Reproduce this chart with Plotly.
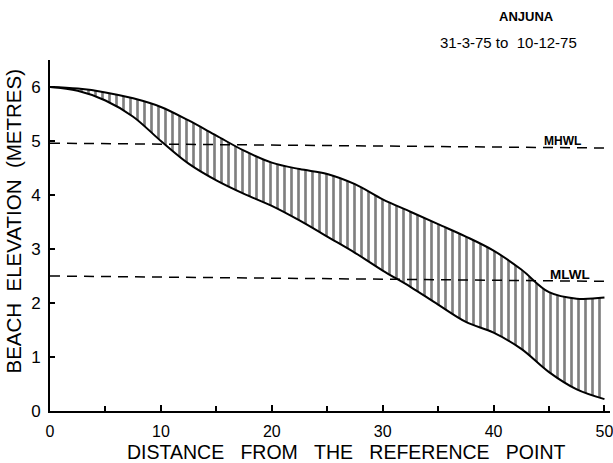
import plotly.graph_objects as go

# Distance from the reference point (m)
distance = [0, 2.5, 5, 7.5, 10, 12.5, 15, 17.5, 20, 22.5, 25, 27.5, 30,
            32.5, 35, 37.5, 40, 42.5, 45, 47.5, 50]
# Profile 31-3-75 (upper)
profile_mar = [6.0, 5.97, 5.9, 5.79, 5.63, 5.38, 5.1, 4.82, 4.6, 4.48, 4.39,
               4.2, 3.92, 3.69, 3.46, 3.23, 2.97, 2.62, 2.2, 2.08, 2.1]
# Profile 10-12-75 (lower)
profile_dec = [6.0, 5.93, 5.75, 5.45, 5.0, 4.58, 4.27, 4.02, 3.8, 3.53, 3.23,
               2.93, 2.6, 2.3, 1.97, 1.65, 1.45, 1.15, 0.72, 0.4, 0.22]

level_x = [0, 50.5]
mhwl = [4.96, 4.87]
mlwl = [2.50, 2.40]

x_ticks = [0, 10, 20, 30, 40, 50]
y_ticks = [0, 1, 2, 3, 4, 5, 6]

FONT = "Liberation Sans"
SP = "&nbsp;&nbsp;&nbsp;"

fig = go.Figure()

fig.add_trace(go.Scatter(x=distance, y=profile_mar, mode="lines",
                         line=dict(color="black", width=2, shape="spline"),
                         showlegend=False))
fig.add_trace(go.Scatter(x=distance, y=profile_dec, mode="lines",
                         line=dict(color="black", width=2, shape="spline"),
                         fill="tonexty",
                         fillpattern=dict(shape="|", size=7, solidity=0.38,
                                          fgcolor="black", bgcolor="white"),
                         showlegend=False))
fig.add_trace(go.Scatter(x=level_x, y=mhwl, mode="lines",
                         line=dict(color="black", width=1.5, dash="10px,7px"),
                         showlegend=False))
fig.add_trace(go.Scatter(x=level_x, y=mlwl, mode="lines",
                         line=dict(color="black", width=1.5, dash="10px,7px"),
                         showlegend=False))

fig.update_layout(
    width=613, height=463,
    margin=dict(l=50, r=3, t=60, b=52),
    paper_bgcolor="white", plot_bgcolor="white",
    font=dict(family=FONT, color="black"),
    xaxis=dict(range=[0, 50.5], showgrid=False, zeroline=False, automargin=False,
               showline=True, linecolor="black", linewidth=2,
               tickvals=x_ticks, ticks="inside", ticklen=6, tickwidth=1.5,
               tickcolor="black", ticklabelstandoff=5, ticklabeloverflow="allow",
               minor=dict(dtick=5, ticks="inside", ticklen=5, tickwidth=1.5,
                          tickcolor="black"),
               tickfont=dict(size=16, family=FONT, color="black")),
    yaxis=dict(range=[0, 6.5], showgrid=False, zeroline=False, automargin=False,
               showline=True, linecolor="black", linewidth=2,
               tickvals=y_ticks, ticks="inside", ticklen=5, tickwidth=1.5,
               tickcolor="black", ticklabelstandoff=4,
               tickfont=dict(size=17, family=FONT, color="black")),
    annotations=[
        dict(text="<b>ANJUNA</b>", xref="paper", yref="paper", x=0.85, y=1.125,
             xanchor="center", yanchor="middle",
             showarrow=False, font=dict(size=13, family=FONT)),
        dict(text="31-3-75 to  10-12-75", xref="paper", yref="paper",
             x=0.818, y=1.051, xanchor="center", yanchor="middle",
             showarrow=False, font=dict(size=15, family=FONT)),
        dict(text="BEACH  ELEVATION  (METRES)", xref="paper", yref="paper",
             x=-0.066, y=0.54, textangle=-90, xanchor="center", yanchor="middle",
             showarrow=False, font=dict(size=20.5, family=FONT)),
        dict(text=SP.join(["DISTANCE", "FROM", "THE", "REFERENCE", "POINT"]),
             xref="paper", yref="paper", x=0.53, y=-0.117,
             xanchor="center", yanchor="middle",
             showarrow=False, font=dict(size=19.5, family=FONT)),
        dict(text="<b>MHWL</b>", xref="x", yref="y", x=46.2, y=4.88,
             yanchor="bottom", yshift=-3, showarrow=False,
             font=dict(size=12, family=FONT)),
        dict(text="<b>MLWL</b>", xref="x", yref="y", x=46.9, y=2.41,
             yanchor="bottom", yshift=-3, showarrow=False,
             font=dict(size=13.5, family=FONT)),
    ],
)

# remove the browser's default 8px body margin so the figure fills the window
fig.write_html("out.html",
               config={"displayModeBar": False},
               post_script="document.body.style.margin='0px';"
                           "document.body.style.overflow='hidden';")
